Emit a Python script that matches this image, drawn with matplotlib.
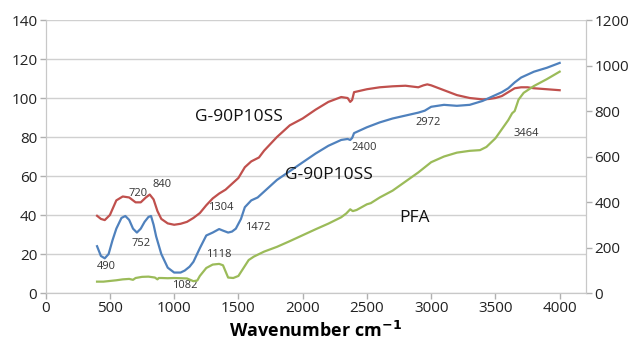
import matplotlib
matplotlib.use('Agg')
import matplotlib.pyplot as plt

# FTIR transmission spectra
wn_red = [400, 430, 460, 500, 550, 600, 650, 700, 740, 780, 810, 840, 870, 900, 950,
          1000, 1050, 1100, 1150, 1200, 1250, 1300, 1350, 1400, 1450, 1500, 1550, 1600,
          1630, 1660, 1700, 1750, 1800, 1850, 1900, 2000, 2100, 2200, 2300, 2350, 2370,
          2385, 2400, 2500, 2600, 2700, 2800, 2900, 2940, 2970, 3000, 3100, 3200, 3300,
          3400, 3450, 3500, 3550, 3600, 3650, 3700, 3750, 3800, 3900, 4000]
t_red = [39.6, 38, 37.4, 40, 47.5, 49.5, 49, 46.5, 46.5, 49, 50.5, 48, 42, 38, 35.7,
         35, 35.5, 36.5, 38.5, 41, 45, 48.5, 51, 53, 56, 59, 64.5, 67.5,
         68.5, 69.5, 73, 76.5, 80, 83, 86, 89.5, 94, 98, 100.5, 100, 98,
         99, 103, 104.5, 105.5, 106, 106.3, 105.5, 106.5, 107, 106.5, 104, 101.5, 100,
         99.3, 99.5, 100, 101, 103, 105, 105.5, 105.5, 105, 104.5, 104]

wn_blue = [400, 430, 460, 490, 520, 550, 590, 620, 650, 680, 710, 740, 770, 800, 820,
           840, 860, 900, 950, 1000, 1050, 1082, 1120, 1150, 1200, 1250, 1300, 1350, 1380,
           1420, 1450, 1480, 1520, 1550, 1600, 1650, 1700, 1750, 1800, 1900, 2000, 2100,
           2200, 2300, 2350, 2370, 2385, 2400, 2500, 2600, 2700, 2800, 2900, 2950, 3000,
           3100, 3200, 3300, 3400, 3450, 3500, 3550, 3600, 3650, 3700, 3750, 3800, 3900, 4000]
t_blue = [24, 19, 17.8, 20, 27, 33, 38.5, 39.5, 37.5, 33, 31, 33, 36.5, 39, 39.5,
          35, 29, 20, 13, 10.5, 10.5, 11.5, 13.5, 16, 23, 29.5, 31, 32.8, 32,
          31, 31.5, 33, 38, 44, 47.5, 49, 52, 55, 58, 62.5, 67, 71.5,
          75.5, 78.5, 79, 78.5, 79.5, 82, 85, 87.5, 89.5, 91, 92.5, 93.5, 95.5,
          96.5, 96, 96.5, 98.5, 100, 101.5, 103, 105, 108, 110.5, 112, 113.5, 115.5, 118]

# PFA is read on the secondary axis
wn_green = [400, 450, 500, 550, 600, 650, 680, 700, 750, 800, 850, 870, 880, 900, 950,
            1000, 1050, 1100, 1150, 1180, 1200, 1250, 1300, 1350, 1380, 1400, 1420, 1460,
            1500, 1540, 1580, 1620, 1700, 1800, 1900, 2000, 2100, 2200, 2300, 2340, 2370,
            2390, 2420, 2500, 2530, 2600, 2700, 2800, 2900, 3000, 3100, 3200, 3300, 3380,
            3430, 3500, 3550, 3600, 3630, 3650, 3680, 3720, 3800, 3900, 4000]
t_green = [50, 50, 53, 56, 60, 62, 58, 66, 71, 72, 68, 60, 66, 66, 65,
           66, 65, 64, 52, 55, 75, 110, 125, 128, 122, 95, 68, 66,
           75, 110, 145, 160, 182, 203, 228, 254, 280, 305, 333, 350, 368,
           360, 365, 390, 395, 420, 450, 490, 530, 575, 600, 617, 625, 628,
           642, 680, 720, 760, 790, 800, 850, 880, 910, 940, 973]

peak_labels = ['490', '720', '752', '840', '1082', '1118', '1304', '1472', '2400', '2972', '3464']
peak_xy = [(473, 13.8), (722, 50.8), (741, 25.6), (908, 55.9), (1083, 3.6), (1344, 20),
           (1363, 44.1), (1647, 33.8), (2479, 74.4), (2977, 87.2), (3739, 82)]

series_names = ['G-90P10SS', 'G-90P10SS', 'PFA']
name_xy = [(1161, 90.3), (1861, 60.5), (2755, 38.5)]

plt.rcParams['font.family'] = ['Open Sans', 'DejaVu Sans']

fig = plt.figure(figsize=(6.34, 3.48), dpi=100)
ax = fig.add_axes([0.072, 0.158, 0.8523, 0.7845])
ax2 = ax.twinx()

ax.plot(wn_red, t_red, color='#C0504D', lw=1.6)
ax.plot(wn_blue, t_blue, color='#4F81BD', lw=1.6)
ax2.plot(wn_green, t_green, color='#9BBB59', lw=1.6)

ax.set_xlim(0, 4205)
ax.set_ylim(0, 140)
ax2.set_ylim(0, 1200)
ax.set_xticks(range(0, 4001, 500))
ax.set_yticks(range(0, 141, 20))
ax2.set_yticks(range(0, 1201, 200))

ax.grid(axis='y', color='#d0d0d0', lw=1)
ax.set_axisbelow(True)
for a in (ax, ax2):
    for s in a.spines.values():
        s.set_color('#c8c8c8')
    a.spines['top'].set_visible(False)
    a.tick_params(colors='#b0b0b0', labelcolor='#222222', labelsize=11, length=4, width=1, pad=2)

for txt, (x, y) in zip(peak_labels, peak_xy):
    ax.text(x, y, txt, fontsize=8, ha='center', va='center', color='#333333')

for txt, (x, y) in zip(series_names, name_xy):
    ax.text(x, y, txt, fontsize=12.5, ha='left', va='center', color='#111111')

ax.set_xlabel('Wavenumber cm$^{\\mathbf{-1}}$', fontsize=13, fontweight='bold', labelpad=3)

fig.savefig('out.png', dpi=100)
